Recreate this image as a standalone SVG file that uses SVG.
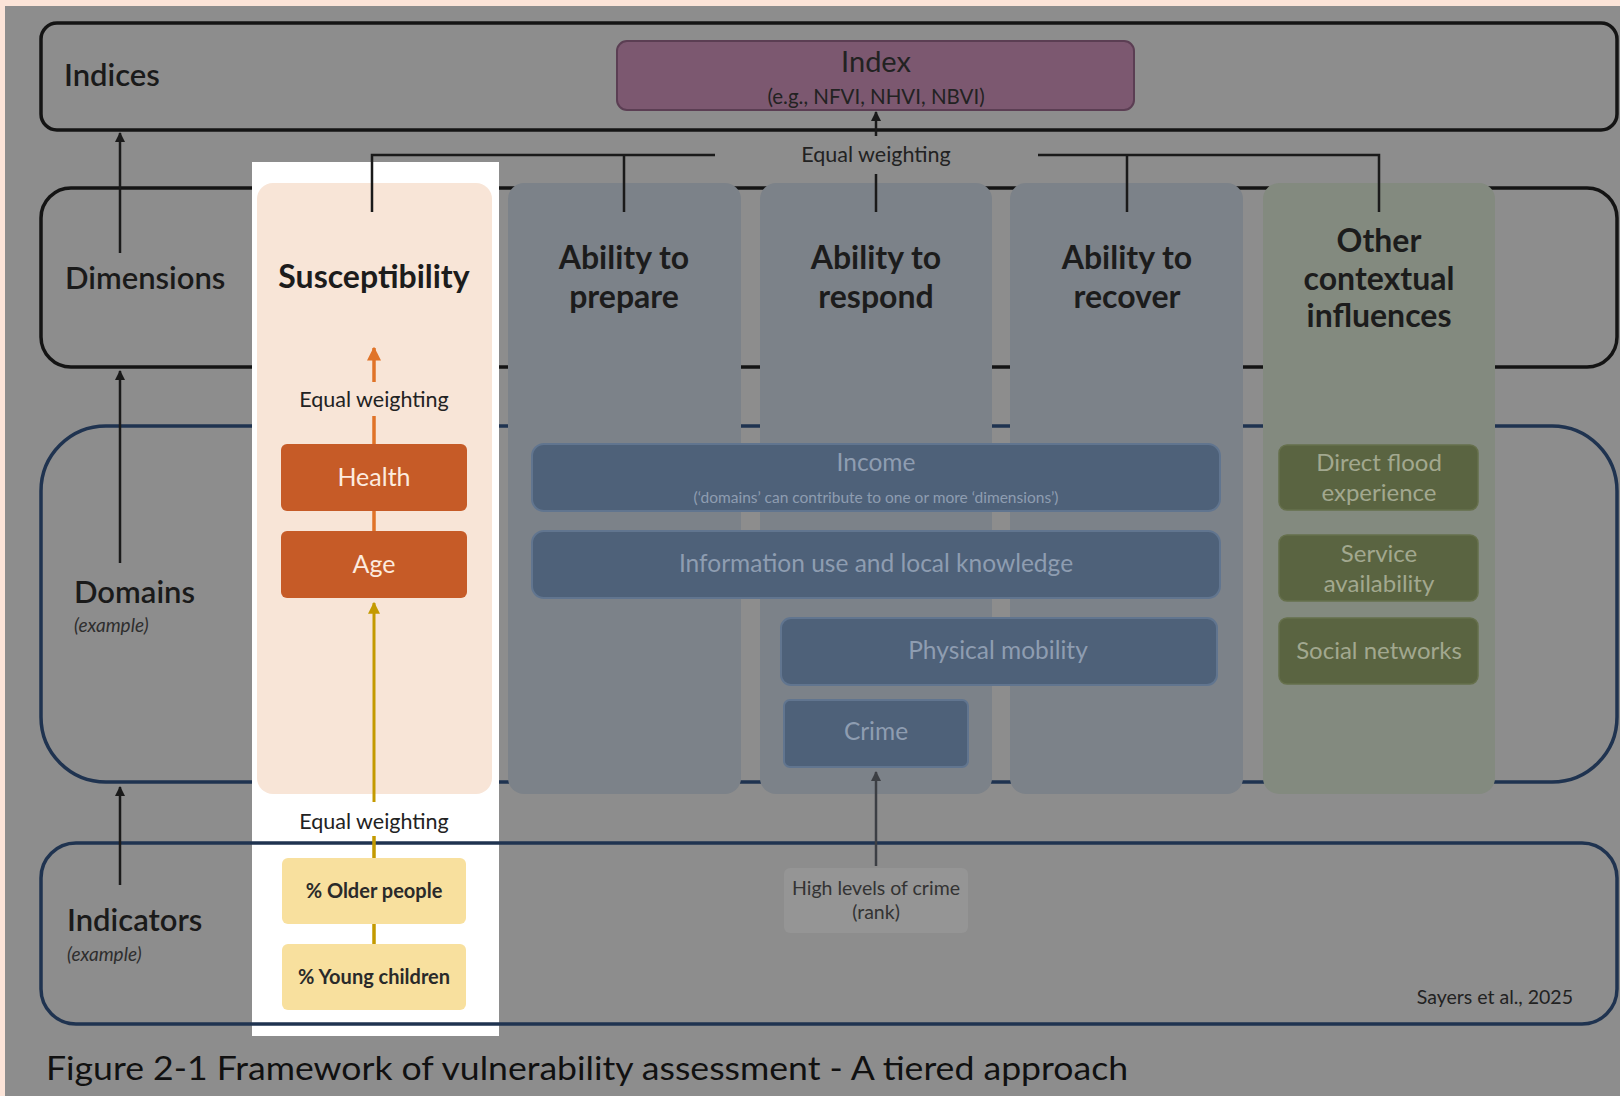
<svg xmlns="http://www.w3.org/2000/svg" width="1620" height="1096" viewBox="0 0 1620 1096">
<defs>
<style>
text{font-family:Lato,"Liberation Sans",sans-serif;}
.tier{fill:none;stroke:#141414;stroke-width:3.5;}
.tierb{fill:none;stroke:#1f3350;stroke-width:3.5;}
.lbl{font-size:31px;font-weight:600;fill:#1a1a1a;}
.ex{font-size:19px;font-style:italic;fill:#2e2e2e;}
.col{fill:#7c8289;}
.head{font-size:32px;font-weight:700;fill:#1c1c1c;text-anchor:middle;}
.ew{font-size:21.5px;fill:#222;text-anchor:middle;}
.dom{fill:#4e6179;stroke:#61758f;stroke-width:2;}
.domt{font-size:24.5px;fill:#8e9db1;text-anchor:middle;}
.grn{fill:#5a6441;stroke:#66704c;stroke-width:1.5;}
.grnt{font-size:24px;fill:#a2a88f;text-anchor:middle;}
.orng{fill:#c65b27;}
.orngt{font-size:25px;fill:#fcebdf;text-anchor:middle;}
.yel{fill:#f8e09e;}
.yelt{font-size:20px;font-weight:700;fill:#2a2a2a;text-anchor:middle;}
.conn{fill:none;stroke:#1a1a1a;stroke-width:2.5;}
</style>
<marker id="ahBlack" viewBox="0 0 10 10" refX="9" refY="5" markerWidth="4" markerHeight="4" orient="auto"><path d="M0,0 L10,5 L0,10 z" fill="#1a1a1a"/></marker>
<marker id="ahOrange" viewBox="0 0 10 10" refX="9" refY="5" markerWidth="4" markerHeight="4" orient="auto"><path d="M0,0 L10,5 L0,10 z" fill="#e07328"/></marker>
<marker id="ahGold" viewBox="0 0 10 10" refX="9" refY="5" markerWidth="4" markerHeight="4" orient="auto"><path d="M0,0 L10,5 L0,10 z" fill="#c49a00"/></marker>
<marker id="ahGray" viewBox="0 0 10 10" refX="9" refY="5" markerWidth="4" markerHeight="4" orient="auto"><path d="M0,0 L10,5 L0,10 z" fill="#3c3f44"/></marker>
</defs>
<rect x="0" y="0" width="1620" height="1096" fill="#fce4d8"/>
<rect x="5" y="6" width="1615" height="1090" fill="#8d8d8d"/>

<g id="tier-indices">
<rect class="tier" x="41" y="23" width="1576" height="107" rx="16"/>
<text class="lbl" x="64" y="86">Indices</text>
</g>
<g id="tier-dimensions">
<rect class="tier" x="41" y="188" width="1576" height="179" rx="30"/>
<text class="lbl" x="65" y="289">Dimensions</text>
</g>
<g id="tier-domains">
<rect class="tierb" x="41" y="426" width="1576" height="356" rx="65"/>
<text class="lbl" x="74" y="603">Domains</text>
<text class="ex" x="74" y="632">(example)</text>
</g>
<rect id="highlight" x="252" y="162" width="247" height="874" fill="#ffffff"/>
<g id="tier-indicators">
<rect class="tierb" x="41" y="843" width="1576" height="181" rx="35"/>
<text class="lbl" x="67" y="931">Indicators</text>
<text class="ex" x="67" y="961">(example)</text>
<text x="1573" y="1004" font-size="19.5" fill="#222" text-anchor="end">Sayers et al., 2025</text>
</g>

<g id="index">
<rect x="617" y="41" width="517" height="69" rx="10" fill="#7c5870" stroke="#5b3e53" stroke-width="2"/>
<text x="876" y="72" font-size="29" fill="#222" text-anchor="middle">Index</text>
<text x="876" y="104" font-size="20.5" fill="#222" text-anchor="middle">(e.g., NFVI, NHVI, NBVI)</text>
</g>

<g id="col-susceptibility">
<rect x="257" y="183" width="235" height="611" rx="16" fill="#f8e5d7"/>
<text class="head" x="374" y="288">Susceptibility</text>
</g>
<g id="col-prepare">
<rect class="col" x="508" y="183" width="233" height="611" rx="16"/>
<text class="head" x="624" y="269">Ability to</text>
<text class="head" x="624" y="308">prepare</text>
</g>
<g id="col-respond">
<rect class="col" x="760" y="183" width="232" height="611" rx="16"/>
<text class="head" x="876" y="269">Ability to</text>
<text class="head" x="876" y="308">respond</text>
</g>
<g id="col-recover">
<rect class="col" x="1010" y="183" width="233" height="611" rx="16"/>
<text class="head" x="1127" y="269">Ability to</text>
<text class="head" x="1127" y="308">recover</text>
</g>
<g id="col-other">
<rect x="1263" y="183" width="232" height="611" rx="16" fill="#838a7f"/>
<text class="head" x="1379" y="252">Other</text>
<text class="head" x="1379" y="290">contextual</text>
<text class="head" x="1379" y="327">influences</text>
</g>

<g id="ew-top"><text class="ew" x="876" y="162">Equal weighting</text></g>
<g id="ew-domains"><text class="ew" x="374" y="407">Equal weighting</text></g>
<g id="ew-indicators"><text class="ew" x="374" y="829">Equal weighting</text></g>

<g id="health"><rect class="orng" x="281" y="444" width="186" height="67" rx="6"/><text class="orngt" x="374" y="486">Health</text></g>
<g id="age"><rect class="orng" x="281" y="531" width="186" height="67" rx="6"/><text class="orngt" x="374" y="573">Age</text></g>
<g id="older"><rect class="yel" x="282" y="858" width="184" height="66" rx="6"/><text class="yelt" x="374" y="898">% Older people</text></g>
<g id="young"><rect class="yel" x="282" y="944" width="184" height="66" rx="6"/><text class="yelt" x="374" y="984">% Young children</text></g>

<g id="income"><rect class="dom" x="532" y="444" width="688" height="67" rx="12"/><text class="domt" x="876" y="471">Income</text><text x="876" y="503" font-size="15.5" fill="#8e9db1" text-anchor="middle">(‘domains’ can contribute to one or more ‘dimensions’)</text></g>
<g id="information"><rect class="dom" x="532" y="531" width="688" height="67" rx="12"/><text class="domt" x="876" y="572">Information use and local knowledge</text></g>
<g id="mobility"><rect class="dom" x="781" y="618" width="436" height="67" rx="10"/><text class="domt" x="998" y="659">Physical mobility</text></g>
<g id="crime"><rect class="dom" x="784" y="700" width="184" height="67" rx="6"/><text class="domt" x="876" y="740">Crime</text></g>
<g id="crime-indicator"><rect x="784" y="868" width="184" height="65" rx="6" fill="#959595"/><text x="876" y="895" font-size="19.5" fill="#333" text-anchor="middle">High levels of crime</text><text x="876" y="919" font-size="19.5" fill="#333" text-anchor="middle">(rank)</text></g>

<g id="flood"><rect class="grn" x="1279" y="445" width="199" height="65" rx="8"/><text class="grnt" x="1379" y="471">Direct flood</text><text class="grnt" x="1379" y="501">experience</text></g>
<g id="service"><rect class="grn" x="1279" y="535" width="199" height="66" rx="8"/><text class="grnt" x="1379" y="562">Service</text><text class="grnt" x="1379" y="592">availability</text></g>
<g id="social"><rect class="grn" x="1279" y="618" width="199" height="66" rx="8"/><text class="grnt" x="1379" y="659">Social networks</text></g>

<g id="connectors">
<path class="conn" d="M372,212 V155 H715 M624,155 V212 M1038,155 H1379 V212 M1127,155 V212 M876,174 V212"/>
<path class="conn" d="M876,136 V112" marker-end="url(#ahBlack)"/>
<path class="conn" d="M120,253 V133" marker-end="url(#ahBlack)"/>
<path class="conn" d="M120,563 V371" marker-end="url(#ahBlack)"/>
<path class="conn" d="M120,885 V787" marker-end="url(#ahBlack)"/>
<path d="M374,382 V348" fill="none" stroke="#e07328" stroke-width="3.5" marker-end="url(#ahOrange)"/>
<path d="M374,416 V444 M374,511 V531" fill="none" stroke="#e07328" stroke-width="3.5"/>
<path d="M374,802 V603" fill="none" stroke="#c49a00" stroke-width="3" marker-end="url(#ahGold)"/>
<path d="M374,836 V858 M374,924 V944" fill="none" stroke="#c49a00" stroke-width="3.5"/>
<path d="M876,866 V772" fill="none" stroke="#3c3f44" stroke-width="2.5" marker-end="url(#ahGray)"/>
</g>

<text id="caption" x="46" y="1080" font-size="32" fill="#111" textLength="1082" lengthAdjust="spacingAndGlyphs">Figure 2-1 Framework of vulnerability assessment - A tiered approach</text>
</svg>
